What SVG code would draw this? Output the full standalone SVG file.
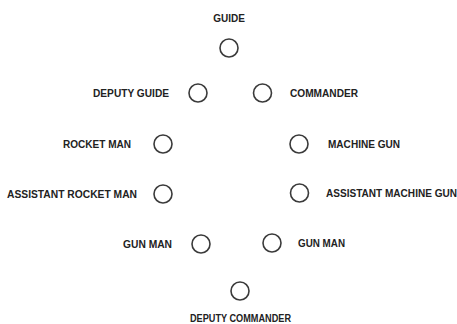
<svg xmlns="http://www.w3.org/2000/svg" width="457" height="324" viewBox="0 0 457 324">
<style>
.bg{fill:#ffffff}
.n circle{fill:none;stroke:#3a3a3a;stroke-width:1.6}
.n text{font-family:"Liberation Sans",Arial,sans-serif;font-size:10px;font-weight:bold;fill:#222222}
</style>
<rect class="bg" x="0" y="0" width="457" height="324"/>
<g id="connectors"></g>
<g id="guide" class="n"><text x="229" y="22" text-anchor="middle">GUIDE</text><circle cx="229" cy="48" r="9"/></g>
<g id="deputy-guide" class="n"><text x="93" y="97" textLength="76" lengthAdjust="spacingAndGlyphs">DEPUTY GUIDE</text><circle cx="198" cy="93" r="9"/></g>
<g id="commander" class="n"><circle cx="262.5" cy="93" r="9"/><text x="290" y="97" textLength="68" lengthAdjust="spacingAndGlyphs">COMMANDER</text></g>
<g id="rocket-man" class="n"><text x="63" y="148" textLength="68" lengthAdjust="spacingAndGlyphs">ROCKET MAN</text><circle cx="163" cy="144" r="9"/></g>
<g id="machine-gun" class="n"><circle cx="299" cy="144" r="9"/><text x="328" y="148" textLength="72" lengthAdjust="spacingAndGlyphs">MACHINE GUN</text></g>
<g id="assistant-rocket-man" class="n"><text x="7" y="198" textLength="130" lengthAdjust="spacingAndGlyphs">ASSISTANT ROCKET MAN</text><circle cx="163" cy="194" r="9"/></g>
<g id="assistant-machine-gun" class="n"><circle cx="299.5" cy="193" r="9"/><text x="326" y="197" textLength="131" lengthAdjust="spacingAndGlyphs">ASSISTANT MACHINE GUN</text></g>
<g id="gun-man-left" class="n"><text x="123" y="248" textLength="49" lengthAdjust="spacingAndGlyphs">GUN MAN</text><circle cx="201" cy="244" r="9"/></g>
<g id="gun-man-right" class="n"><circle cx="272" cy="243" r="9"/><text x="298" y="247" textLength="47" lengthAdjust="spacingAndGlyphs">GUN MAN</text></g>
<g id="deputy-commander" class="n"><circle cx="240" cy="291" r="9"/><text x="190" y="322" textLength="101" lengthAdjust="spacingAndGlyphs">DEPUTY COMMANDER</text></g>
</svg>
